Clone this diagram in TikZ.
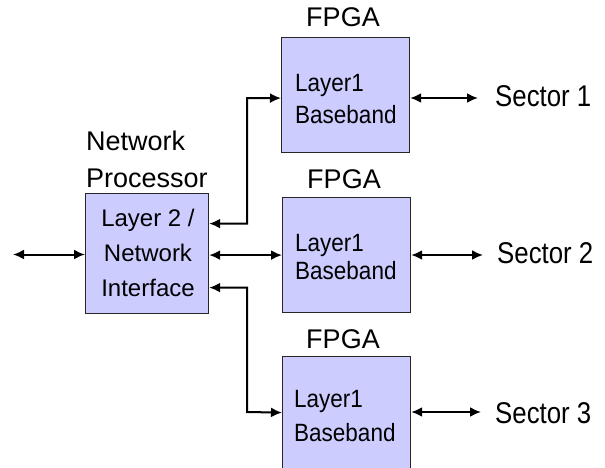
\documentclass[tikz,border=0pt]{standalone}
\usepackage{fontspec}
\setmainfont{Liberation Sans}
\newfontfamily\boxfont[FakeStretch=0.9]{Liberation Sans}
\newfontfamily\secfont[FakeStretch=0.86]{Liberation Sans}
\usetikzlibrary{arrows.meta}
\definecolor{boxfill}{RGB}{204,204,255}
\begin{document}
\begin{tikzpicture}[x=1pt,y=-1pt,
  blk/.style={draw=black!85,line width=1.2pt,fill=boxfill,minimum width=128pt,minimum height=115pt,anchor=north west,inner sep=0pt},
  btxt/.style={font=\boxfont\fontsize{25}{30}\selectfont,anchor=base west,inner sep=0pt},
  ntxt/.style={font=\fontsize{24}{30}\selectfont,anchor=base,inner sep=0pt},
  ttl/.style={font=\fontsize{27}{32}\selectfont,inner sep=0pt},
  sec/.style={font=\secfont\fontsize{30}{36}\selectfont,anchor=base west,inner sep=0pt},
  dbl/.style={line width=2pt,{Latex[length=11pt,width=10pt]}-{Latex[length=11pt,width=10pt]}}]
\useasboundingbox (0,0) rectangle (605,467);
\clip (0,0) rectangle (605,467);
% boxes
\node[blk,minimum width=123pt,minimum height=120pt] (np) at (85,193) {};
\node[blk] (f1) at (281,37) {};
\node[blk] (f2) at (282,197) {};
\node[blk] (f3) at (282,356) {};
% titles
\node[ttl,anchor=base west] (npa) at (86,150) {Network};
\node[ttl,anchor=base west] (npb) at (86,187) {Processor};
\node[ttl,anchor=base] (t1) at (343,26) {FPGA};
\node[ttl,anchor=base] (t2) at (344,188) {FPGA};
\node[ttl,anchor=base] (t3) at (343,348) {FPGA};
% texts in boxes
\node[ntxt] (n1) at (148,226.7) {Layer 2 /};
\node[ntxt] (n2) at (148,261.7) {Network};
\node[ntxt] (n3) at (148,296.7) {Interface};
\node[btxt] (a1) at (295,91.7) {Layer1};
\node[btxt] (b1) at (295,123.3) {Baseband};
\node[btxt] (a2) at (295,251.7) {Layer1};
\node[btxt] (b2) at (295,279) {Baseband};
\node[btxt] (a3) at (294,407) {Layer1};
\node[btxt] (b3) at (294,441.7) {Baseband};
% sectors
\node[sec] (s1) at (495,106) {Sector 1};
\node[sec] (s2) at (497,263.3) {Sector 2};
\node[sec] (s3) at (495,423) {Sector 3};
% connectors
\coordinate (lft) at (13,254.5);
\draw[dbl] (lft) -- (lft -| np.west);
\draw[dbl] ([yshift=-1.5pt]np.east) -- ([yshift=-1.5pt]np.east -| f2.west);
\draw[dbl] ([yshift=30pt]np.east) -| (247,98) -- ([yshift=-3pt]f1.west);
\draw[dbl] ([yshift=-34pt]np.east) -| (247,412) -- ([yshift=1.5pt]f3.west);
\coordinate (e1) at (478,98);
\coordinate (e2) at (483,255);
\coordinate (e3) at (481,412);
\draw[dbl] (e1 -| f1.east) -- (e1);
\draw[dbl] (e2 -| f2.east) -- (e2);
\draw[dbl] (e3 -| f3.east) -- (e3);
\end{tikzpicture}
\end{document}
